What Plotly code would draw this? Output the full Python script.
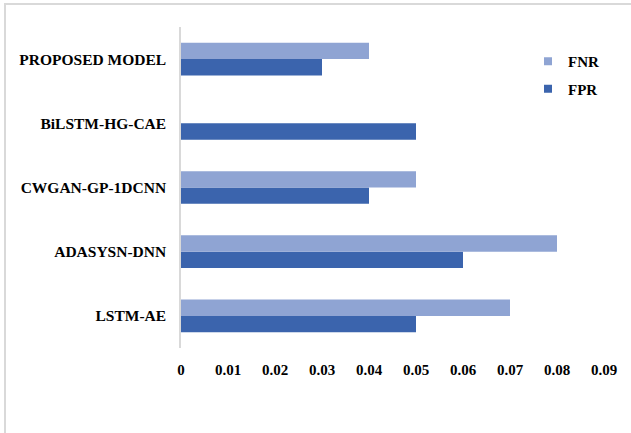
import plotly.graph_objects as go

# Error rates per model (bottom to top on the chart)
models = ["LSTM-AE", "ADASYSN-DNN", "CWGAN-GP-1DCNN", "BiLSTM-HG-CAE", "PROPOSED MODEL"]
fpr = [0.05, 0.06, 0.04, 0.05, 0.03]
fnr = [0.07, 0.08, 0.05, 0.0, 0.04]
x_ticks = [0, 0.01, 0.02, 0.03, 0.04, 0.05, 0.06, 0.07, 0.08, 0.09]
x_tick_text = ["0", "0.01", "0.02", "0.03", "0.04", "0.05", "0.06", "0.07", "0.08", "0.09"]

FNR_COLOR = "#8FA4D3"
FPR_COLOR = "#3B64AD"
FONT = "Liberation Serif"

fig = go.Figure()
# FPR first so it sits below FNR inside each group
fig.add_trace(go.Bar(y=models, x=fpr, orientation="h", name="FPR",
                     marker=dict(color=FPR_COLOR, line=dict(width=0)), showlegend=False))
fig.add_trace(go.Bar(y=models, x=fnr, orientation="h", name="FNR",
                     marker=dict(color=FNR_COLOR, line=dict(width=0)), showlegend=False))

# Small square legend keys
for name, col in [("FNR", FNR_COLOR), ("FPR", FPR_COLOR)]:
    fig.add_trace(go.Scatter(x=[None], y=[None], mode="markers", name=name, legendgroup=name,
                             marker=dict(symbol="square", size=8, color=col)))

W, H = 631, 433
L, R, T, B = 181, 27, 27, 85
pw, ph = W - L - R, H - T - B

fig.update_layout(
    width=W, height=H,
    margin=dict(l=L, r=R, t=T, b=B),
    paper_bgcolor="white", plot_bgcolor="white",
    barmode="group", bargap=0.49, bargroupgap=0,
    font=dict(family=FONT, color="black"),
    xaxis=dict(range=[0, 0.09], tickvals=x_ticks, ticktext=x_tick_text,
               showgrid=False, zeroline=False, showline=False, ticks="",
               tickfont=dict(family=FONT, size=15, weight="bold", color="black"),
               ticklabelstandoff=11),
    yaxis=dict(categoryorder="array", categoryarray=models, showgrid=False,
               zeroline=False, showline=True, linecolor="#d9d9d9", linewidth=1.5,
               ticks="", tickfont=dict(family=FONT, size=15.5, weight="bold", color="black"),
               ticklabelstandoff=10),
    legend=dict(x=(528 - L) / pw, y=1 - (45 - T) / ph, xanchor="left", yanchor="top",
                traceorder="grouped", tracegroupgap=5, bgcolor="rgba(0,0,0,0)",
                font=dict(family=FONT, size=15, weight="bold", color="black")),
    shapes=[dict(type="rect", xref="paper", yref="paper",
                 x0=(5 - L) / pw, x1=(W + 10 - L) / pw,
                 y0=1 - (H + 10 - T) / ph, y1=1 + (T - 4) / ph,
                 line=dict(color="#d9d9d9", width=2), fillcolor="rgba(0,0,0,0)", layer="below")],
)

fig.write_html("out.html")
